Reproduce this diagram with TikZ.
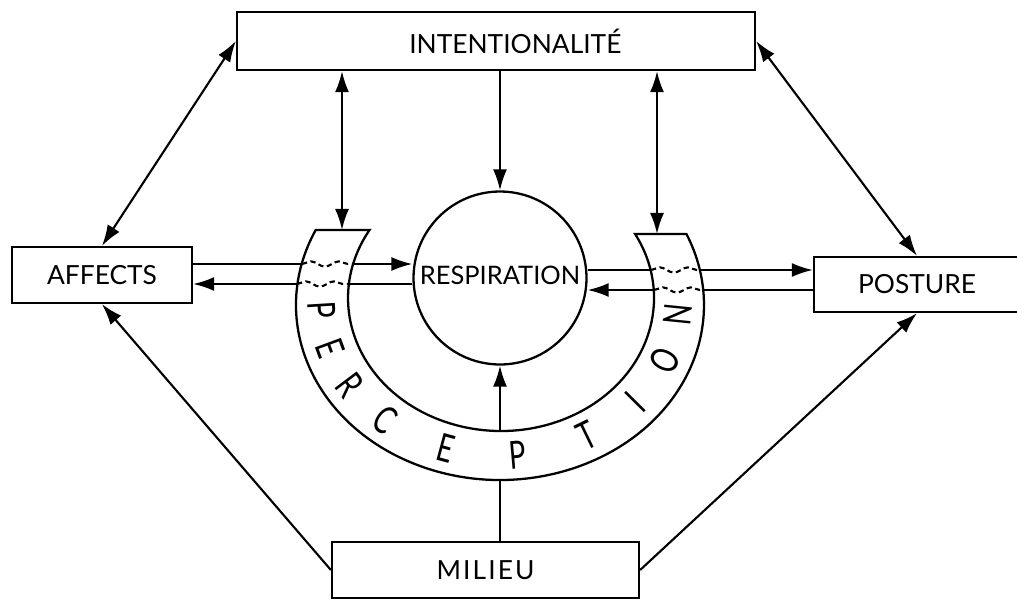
\documentclass[tikz,border=0pt]{standalone}
\usepackage{fontspec}
\setmainfont{Lato}
\usetikzlibrary{arrows.meta,calc,decorations.pathmorphing}
\begin{document}
\begin{tikzpicture}[x=0.02cm,y=0.02cm,
  box/.style={draw, line width=1.3pt, rectangle, inner sep=0pt, font=\fontsize{15}{15}\selectfont},
  arr/.style={line width=1.2pt, -{Latex[length=12pt,width=8pt]}},
  darr/.style={line width=1.2pt, {Latex[length=12pt,width=8pt]}-{Latex[length=12pt,width=8pt]}},
  wavy/.style={line width=1.2pt, dash pattern=on 3pt off 2pt, decorate, decoration={snake, amplitude=1.5pt, segment length=16pt}},
  ring/.style={draw, line width=1.3pt, fill=white},
  letter/.style={font=\fontsize{22}{22}\selectfont, inner sep=0pt}]
\useasboundingbox (0,0) rectangle (1017,600);
\clip (0,0) rectangle (1017,600);

% boxes
\node[box, minimum width=10.36cm, minimum height=1.16cm] (intent) at (496,559) {\hspace*{22pt}INTENTIONALITÉ};
\node[box, minimum width=3.6cm, minimum height=1.12cm] (affects) at (102,325) {AFFECTS};
\node[box, minimum width=4.12cm, minimum height=1.1cm] (posture) at (917,315.5) {POSTURE};
\node[box, minimum width=6.14cm, minimum height=1.12cm] (milieu) at (485.5,30) {\addfontfeature{LetterSpace=8}MILIEU};
\node[draw, circle, line width=1.3pt, minimum size=3.46cm, inner sep=0pt, font=\fontsize{14.5}{14.5}\selectfont] (resp) at (500,322) {\raisebox{3pt}{RESPIRATION}};

% helper coordinates
\coordinate (ringL) at (342,370);
\coordinate (ringR) at (657,366);
\coordinate (lu) at (0,336);
\coordinate (ll) at (0,316);
\coordinate (ru) at (0,330);
\coordinate (rl) at (0,310);

% horizontal arrows
\draw[arr] (affects.east |- lu) -- (resp.west |- lu);
\draw[arr] (resp.west |- ll) -- (affects.east |- ll);
\draw[arr] (resp.east |- ru) -- (posture.west |- ru);
\draw[arr] (posture.west |- rl) -- (resp.east |- rl);

% vertical from milieu
\draw[arr] (milieu.north -| resp.south) -- (resp.south);

% perception ring
\coordinate (oc) at (500,295);
\coordinate (ic) at (501,302);
\path[ring] ($(oc)+(154.6:204 and 175)$) arc[start angle=154.6, end angle=383.9, x radius=204, y radius=175]
  -- ($(ic)+(28.8:153 and 133)$) arc[start angle=28.8, end angle=-210.7, x radius=153, y radius=133] -- cycle;

% wavy dashed crossings
\draw[wavy] (302,336) -- (354,336);
\draw[wavy] (297,316) -- (351,316);
\draw[wavy] (651,330) -- (700,330);
\draw[wavy] (654,310) -- (703,310);

% letters
\foreach \ch/\t [count=\i] in {P/183, E/197.6, R/213, C/230, E/252.5, P/275.7, T/299.3, I/319.5, O/337.6, N/355} {
  \pgfmathsetmacro\rot{atan2(154*cos(\t), -178.5*sin(\t))}
  \node[letter, rotate=\rot] (pl\i) at ($(500,298.5)+(\t:178.5 and 154)$) {\scalebox{0.72}[1]{\ch}};
}

% vertical arrows from intentionalite
\draw[darr] (intent.south -| ringL) -- (ringL);
\draw[darr] (intent.south -| ringR) -- (ringR);
\draw[arr] (intent.south -| resp.north) -- (resp.north);

% diagonals
\draw[darr] (intent.west) -- (affects.north);
\draw[darr] (intent.east) -- (posture.north);
\draw[arr] (milieu.west) -- (affects.south);
\draw[arr] (milieu.east) -- (posture.south);
\end{tikzpicture}
\end{document}
